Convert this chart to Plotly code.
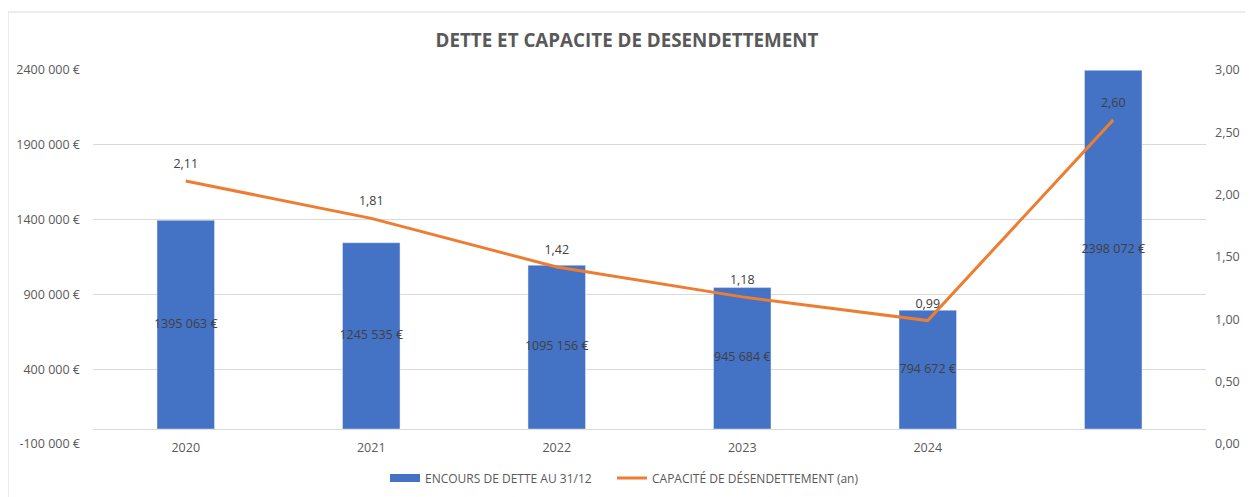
import plotly.graph_objects as go

# Données
annees = ["2020", "2021", "2022", "2023", "2024", ""]
encours = [1395063, 1245535, 1095156, 945684, 794672, 2398072]
capacite = [2.11, 1.81, 1.42, 1.18, 0.99, 2.60]
ticks_gauche = [-100000, 400000, 900000, 1400000, 1900000, 2400000]
ticks_droite = [0, 0.5, 1.0, 1.5, 2.0, 2.5, 3.0]

BLEU = "#4472C4"
ORANGE = "#ED7D31"
GRIS = "#595959"
TEXTE = "#404040"
FONT = "Open Sans"


def euros(v):
    """Format Excel '# ##0 €' tel qu'affiché (espace seulement pour les milliers)."""
    neg = v < 0
    v = abs(int(v))
    if v >= 1000:
        s = f"{v // 1000} {v % 1000:03d}"
    else:
        s = str(v)
    return ("-" if neg else "") + s + " €"


def decimal_fr(v):
    return f"{v:.2f}".replace(".", ",")


x = list(range(len(annees)))

fig = go.Figure()
fig.add_trace(go.Bar(
    name="ENCOURS DE DETTE AU 31/12",
    x=x, y=encours,
    width=0.31,
    marker_color=BLEU,
    showlegend=False,
    yaxis="y",
))
# étiquettes centrées dans les barres (sans réduction automatique de taille)
fig.add_trace(go.Scatter(
    x=x, y=[v / 2 for v in encours],
    mode="text",
    text=[euros(v) for v in encours],
    textfont=dict(family=FONT, size=12.5, color=TEXTE),
    showlegend=False, hoverinfo="skip",
    yaxis="y",
))
# entrée de légende façon Excel (rectangle large) pour les barres
fig.add_trace(go.Scatter(
    name="ENCOURS DE DETTE AU 31/12",
    x=[None], y=[None], mode="lines",
    line=dict(color=BLEU, width=8),
    hoverinfo="skip",
    legend="legend",
))
fig.add_trace(go.Scatter(
    name="CAPACITÉ DE DÉSENDETTEMENT (an)",
    x=x, y=capacite,
    mode="lines+markers+text",
    line=dict(color=ORANGE, width=3),
    marker=dict(size=14, color="rgba(0,0,0,0)"),
    text=[decimal_fr(v) for v in capacite],
    textposition="top center",
    textfont=dict(family=FONT, size=12.5, color=TEXTE),
    yaxis="y2",
    legend="legend2",
))

# la page ajoute une marge de 8 px autour de la figure
W, H = 1245, 489
L, T = 85, 62
pw, ph = 1113, 374
R, B = W - L - pw, H - T - ph


def px_x(p):
    return (p - 8 - L) / pw


def px_y(p):
    return (T + ph - (p - 8)) / ph


legende = dict(
    orientation="h", xanchor="left",
    xref="container", yref="container",
    y=1 - (478 - 8) / H, yanchor="middle",
    font=dict(family=FONT, size=12, color=GRIS),
    itemwidth=30, bgcolor="rgba(0,0,0,0)",
)

fig.update_layout(
    width=W, height=H,
    margin=dict(l=L, r=R, t=T, b=B, autoexpand=False),
    plot_bgcolor="white", paper_bgcolor="white",
    font=dict(family=FONT, size=12.5, color=GRIS),
    title=dict(
        text="<b>DETTE ET CAPACITE DE DESENDETTEMENT</b>",
        x=(627 - 8) / W, xanchor="center", y=1 - (40 - 8) / H, yanchor="middle",
        font=dict(family=FONT, size=18.8, color=GRIS),
    ),
    showlegend=True,
    legend=dict(legende, x=(385 - 8) / W),
    legend2=dict(legende, x=(612 - 8) / W),
    xaxis=dict(
        tickvals=x, ticktext=annees,
        range=[-0.5, len(annees) - 0.5],
        showgrid=False, zeroline=False, ticks="",
        tickfont=dict(family=FONT, size=12.5, color=GRIS),
        ticklabelstandoff=-6, automargin=False,
    ),
    yaxis=dict(
        range=[ticks_gauche[0], ticks_gauche[-1]],
        tickvals=ticks_gauche, ticktext=[euros(v) for v in ticks_gauche],
        showgrid=True, gridcolor="#D9D9D9", gridwidth=1,
        zeroline=True, zerolinecolor="#D9D9D9", zerolinewidth=1,
        ticks="", ticklabelstandoff=12, automargin=False,
    ),
    yaxis2=dict(
        range=[ticks_droite[0], ticks_droite[-1]],
        tickvals=ticks_droite, ticktext=[decimal_fr(v) for v in ticks_droite],
        overlaying="y", side="right",
        showgrid=False, zeroline=False, ticks="", ticklabelstandoff=8,
        automargin=False,
    ),
    shapes=[dict(
        type="rect", xref="paper", yref="paper",
        x0=px_x(8), x1=px_x(1251), y0=px_y(530), y1=px_y(12),
        line=dict(color="#D9D9D9", width=1), fillcolor="rgba(0,0,0,0)",
        layer="below",
    )],
)

fig.write_html("out.html")
